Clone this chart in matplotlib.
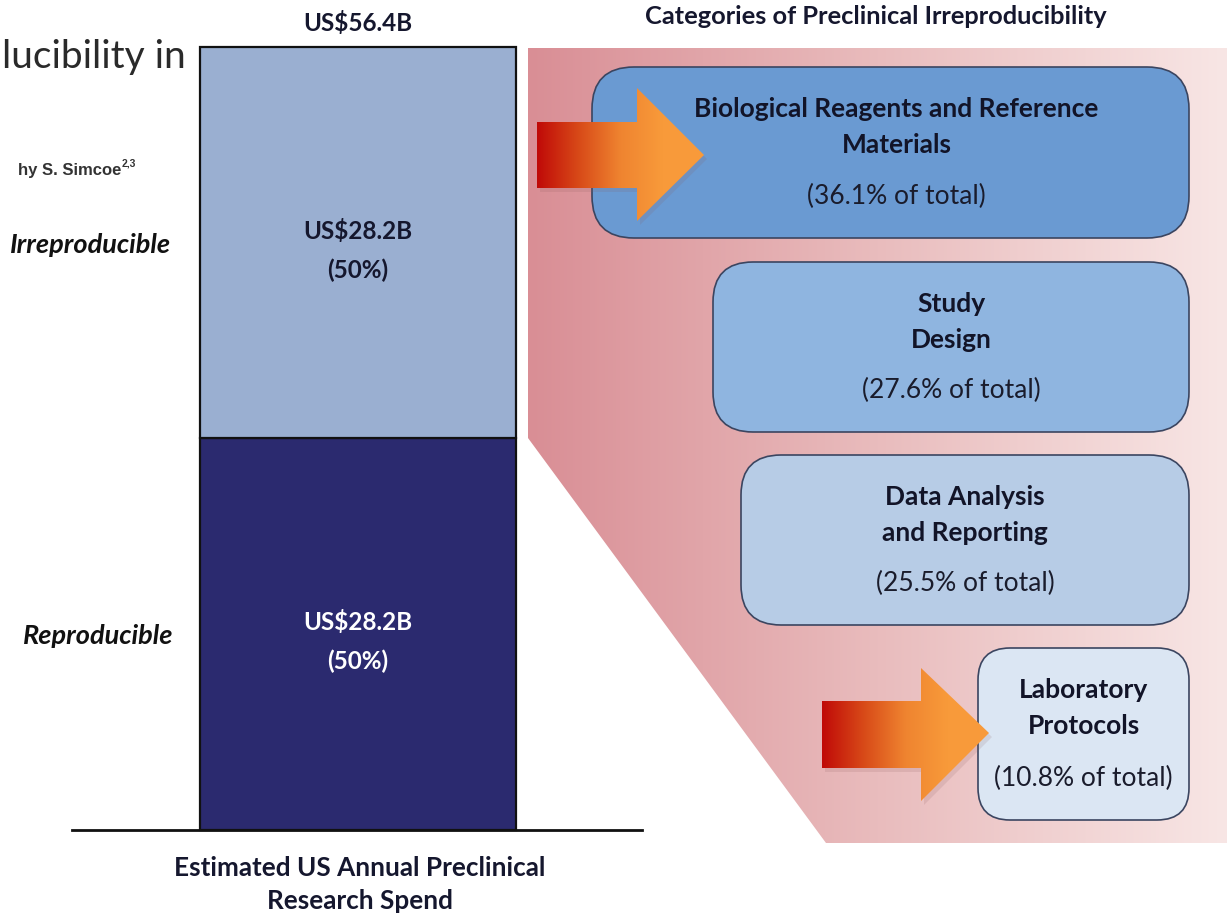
import numpy as np
import matplotlib
matplotlib.use("Agg")
import matplotlib.pyplot as plt
from matplotlib.patches import Polygon, FancyBboxPatch
from matplotlib.colors import LinearSegmentedColormap

# ---- data ----
segments = ["Reproducible", "Irreproducible"]
segment_values = [28.2, 28.2]          # US$ billions
segment_shares = [50, 50]              # percent
total_spend = 56.4
categories = ["Biological Reagents and Reference\nMaterials",
              "Study\nDesign",
              "Data Analysis\nand Reporting",
              "Laboratory\nProtocols"]
category_shares = [36.1, 27.6, 25.5, 10.8]

W, H = 1227, 921
FONT = "Lato"

fig = plt.figure(figsize=(W / 100, H / 100), dpi=100)
fig.patch.set_facecolor("white")

# full-figure canvas in pixel units
bg = fig.add_axes([0, 0, 1, 1])
bg.set_xlim(0, W)
bg.set_ylim(H, 0)
bg.axis("off")

# pink fan behind the category boxes
fan_xy = [(528, 48), (W, 48), (W, 843), (826, 843), (528, 438)]
fan = Polygon(fan_xy, closed=True, facecolor="none", edgecolor="none")
bg.add_patch(fan)
pink = LinearSegmentedColormap.from_list("pink", ["#d98e95", "#e9bcbd", "#f8e6e5"])
im = bg.imshow(np.linspace(0, 1, 256)[None, :], cmap=pink, aspect="auto",
               extent=(528, W, 843, 48), zorder=1, interpolation="bicubic")
im.set_clip_path(fan)

# category boxes
box_geom = [(592, 67, 1189, 238), (713, 262, 1189, 432),
            (741, 455, 1189, 625), (978, 648, 1189, 820)]
box_colors = ["#6a9ad2", "#8fb5e0", "#b7cce6", "#dbe6f3"]
box_round = [42, 40, 40, 32]
for (x0, y0, x1, y1), fc, r, label, share in zip(box_geom, box_colors, box_round,
                                                  categories, category_shares):
    b = FancyBboxPatch((x0, y0), x1 - x0, y1 - y0,
                       boxstyle=f"round,pad=0,rounding_size={r}",
                       facecolor=fc, edgecolor="#3b4560", linewidth=1.2, zorder=3)
    bg.add_patch(b)
    cx = (x0 + x1) / 2 + (6 if x0 < 600 else 0)
    bg.text(cx, y0 + 60, label, ha="center", va="center", fontsize=19,
            fontweight="bold", family=FONT, color="#121428", linespacing=1.62,
            zorder=5)
    bg.text(cx, y1 - 42, f"({share}% of total)", ha="center", va="center",
            fontsize=19, family=FONT, color="#1a1c2c", zorder=5)

# gradient arrows
arrow_cmap = LinearSegmentedColormap.from_list(
    "arr", ["#c00a08", "#d84a18", "#ef8430", "#f89a3a", "#f99b3b"])


def draw_arrow(x0, yb0, yb1, xh, yh0, yh1, xt, yt):
    pts = [(x0, yb0), (xh, yb0), (xh, yh0), (xt, yt),
           (xh, yh1), (xh, yb1), (x0, yb1)]
    shadow = Polygon([(x + 3, y + 4) for x, y in pts], closed=True,
                     facecolor="#8a5a5a", alpha=0.15, edgecolor="none", zorder=6)
    bg.add_patch(shadow)
    shape = Polygon(pts, closed=True, facecolor="none", edgecolor="none", zorder=7)
    bg.add_patch(shape)
    g = bg.imshow(np.linspace(0, 1, 256)[None, :], cmap=arrow_cmap, aspect="auto",
                  extent=(x0, xt, yh1, yh0), zorder=7, interpolation="bicubic")
    g.set_clip_path(shape)


draw_arrow(537, 122, 188, 637, 88, 221, 704, 155)
draw_arrow(822, 701, 768, 921, 668, 801, 989, 733)

bg.set_xlim(0, W)
bg.set_ylim(H, 0)

# stacked bar of annual spend
bar_left_px, bar_right_px = 72, 642
bar_top_px, bar_base_px = 47, 830
ax = fig.add_axes([bar_left_px / W, (H - bar_base_px) / H,
                   (bar_right_px - bar_left_px) / W, (bar_base_px - bar_top_px) / H])
ax.patch.set_visible(False)
ax.set_xlim(0, bar_right_px - bar_left_px)
ax.set_ylim(0, total_spend)
bar_x, bar_w = 286, 316
seg_colors = ["#2b2a6f", "#9aafd1"]
txt_colors = ["white", "#15172e"]
bottom = 0
for val, share, fc, tc in zip(segment_values, segment_shares, seg_colors, txt_colors):
    ax.bar(bar_x, val, width=bar_w, bottom=bottom, color=fc,
           edgecolor="#111111", linewidth=1.6, clip_on=False, zorder=3)
    ax.text(bar_x, bottom + val / 2 - 0.55, f"US${val}B\n({share}%)", ha="center",
            va="center", fontsize=17.5, fontweight="bold", family=FONT, color=tc,
            linespacing=1.8, zorder=4)
    bottom += val
for s in ["top", "right", "left"]:
    ax.spines[s].set_visible(False)
ax.spines["bottom"].set_linewidth(2)
ax.spines["bottom"].set_color("#111111")
ax.set_xticks([])
ax.set_yticks([])

# texts
bg.text(358, 23, f"US${total_spend}B", ha="center", va="center", fontsize=17.5,
        fontweight="bold", family=FONT, color="#15172e")
bg.text(876, 17, "Categories of Preclinical Irreproducibility", ha="center",
        va="center", fontsize=18.3, fontweight="bold", family=FONT, color="#15172e")
bg.text(91, 245, "Irreproducible", ha="center", va="center", fontsize=19.5,
        fontweight="bold", style="italic", family=FONT, color="#111111")
bg.text(98, 636, "Reproducible", ha="center", va="center", fontsize=19.5,
        fontweight="bold", style="italic", family=FONT, color="#111111")
bg.text(360, 884, "Estimated US Annual Preclinical\nResearch Spend", ha="center",
        va="center", fontsize=18.8, fontweight="bold", family=FONT, color="#15172e",
        linespacing=1.45)
bg.text(186, 57, "lucibility in", ha="right", va="center", fontsize=28,
        family=FONT, color="#2a2a2a")
bg.text(121, 171, "hy S. Simcoe", ha="right", va="center", fontsize=12,
        fontweight="bold", family="Liberation Sans", color="#333333")
bg.text(122, 163, "2,3", ha="left", va="center", fontsize=7.5,
        fontweight="bold", family="Liberation Sans", color="#333333")

fig.savefig("out.png", dpi=100, facecolor="white")
